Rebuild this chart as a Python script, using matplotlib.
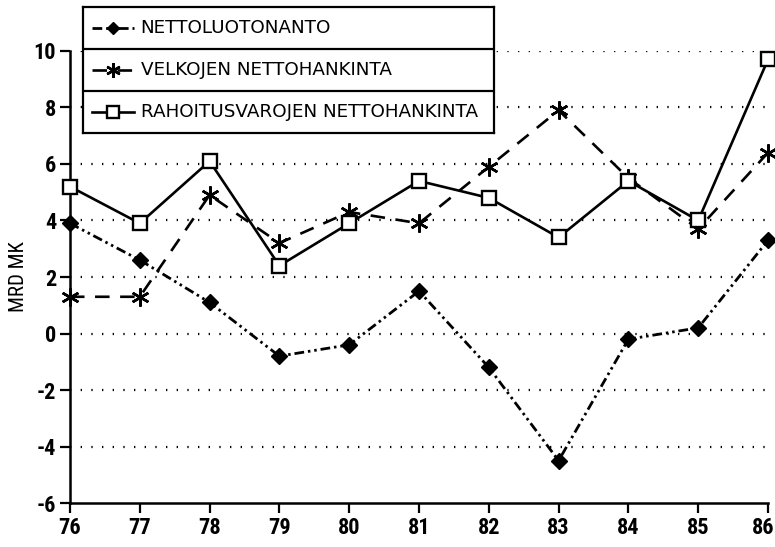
import matplotlib
matplotlib.use("Agg")
import matplotlib.pyplot as plt
from matplotlib import font_manager
from matplotlib.transforms import ScaledTranslation

years = [76, 77, 78, 79, 80, 81, 82, 83, 84, 85, 86]
nettoluotonanto = [3.9, 2.6, 1.1, -0.8, -0.4, 1.5, -1.2, -4.5, -0.2, 0.2, 3.3]
velkojen = [1.3, 1.3, 4.9, 3.2, 4.3, 3.9, 5.9, 7.9, 5.5, 3.7, 6.4]
rahoitus = [5.2, 3.9, 6.1, 2.4, 3.9, 5.4, 4.8, 3.4, 5.4, 4.0, 9.7]
yticks = [-6, -4, -2, 0, 2, 4, 6, 8, 10]
labels = ["NETTOLUOTONANTO", "VELKOJEN NETTOHANKINTA", "RAHOITUSVAROJEN NETTOHANKINTA"]
ylabel = "MRD MK"

names = {f.name for f in font_manager.fontManager.ttflist}
cond = None
for cand in ['DejaVu Sans Condensed', 'Liberation Sans Narrow', 'Roboto Condensed', 'Open Sans Condensed']:
    if cand in names:
        cond = cand
        break
tick_family = [cond, 'DejaVu Sans'] if cond else ['DejaVu Sans']

plt.rcParams['font.family'] = ['DejaVu Sans']

fig = plt.figure(figsize=(7.75, 5.47), dpi=100)
ax = fig.add_axes([0.0903, 0.0804, 0.9007, 0.8264])

dashdotdot = (0, (3.5, 1.4, 0.9, 1.4, 0.9, 1.4))
dashed = (0, (5.5, 4))
asterisk = (6, 2, 0)

style_n = dict(color='black', lw=2.0, ls=dashdotdot, marker='D', ms=8, mfc='black', mec='black')
style_v = dict(color='black', lw=1.9, ls=dashed, marker=asterisk, ms=13, mew=1.8, mec='black')
style_r = dict(color='black', lw=1.9, ls='-', marker='s', ms=10, mfc='white', mec='black', mew=1.7)

for yv in yticks[1:]:
    ax.axhline(yv, color='black', lw=1.6, ls=(0, (0.6, 4.2)), zorder=1)

ax.plot(years, nettoluotonanto, zorder=3, clip_on=False, **style_n)
ax.plot(years, velkojen, zorder=3, clip_on=False, **style_v)
ax.plot(years, rahoitus, zorder=4, clip_on=False, **style_r)

ax.set_xlim(76, 86)
ax.set_ylim(-6, 10)
ax.set_xticks(years)
ax.set_xticklabels([str(y) for y in years])
ax.set_yticks(yticks)
ax.set_yticklabels([str(y) for y in yticks])
for s in ['top', 'right']:
    ax.spines[s].set_visible(False)
for s in ['left', 'bottom']:
    ax.spines[s].set_linewidth(1.8)
ax.tick_params(axis='both', direction='out', length=7, width=1.6, labelsize=16, pad=3)
for lab in ax.get_xticklabels() + ax.get_yticklabels():
    lab.set_fontweight('bold')
    lab.set_family(tick_family)
last = ax.get_xticklabels()[-1]
last.set_transform(last.get_transform() + ScaledTranslation(-5 / 100, 0, fig.dpi_scale_trans))
ax.set_ylabel(ylabel, fontsize=15, family=tick_family)
ax.yaxis.set_label_coords(-0.060, 0.5)

lax = fig.add_axes([0.107, 0.757, 0.531, 0.230])
lax.set_xlim(0, 1)
lax.set_ylim(0, 3)
lax.set_xticks([])
lax.set_yticks([])
for s in lax.spines.values():
    s.set_linewidth(1.6)
lax.set_facecolor('white')
lax.set_zorder(10)
for yv in [1, 2]:
    lax.axhline(yv, color='black', lw=1.6)
line_keys = ('color', 'lw', 'ls')
mark_keys = ('marker', 'ms', 'mfc', 'mec', 'mew', 'color')
for i, (lab, st) in enumerate(zip(labels, [style_n, style_v, style_r])):
    yc = 2.5 - i
    lax.plot([0.022, 0.125], [yc, yc], **{k: v for k, v in st.items() if k in line_keys})
    mst = {k: v for k, v in st.items() if k in mark_keys}
    mst['ms'] = mst['ms'] * 0.8
    lax.plot([0.072], [yc], ls='none', **mst)
    lax.text(0.14, yc, lab, va='center', ha='left', fontsize=13.2)

fig.savefig("out.png", dpi=100)
